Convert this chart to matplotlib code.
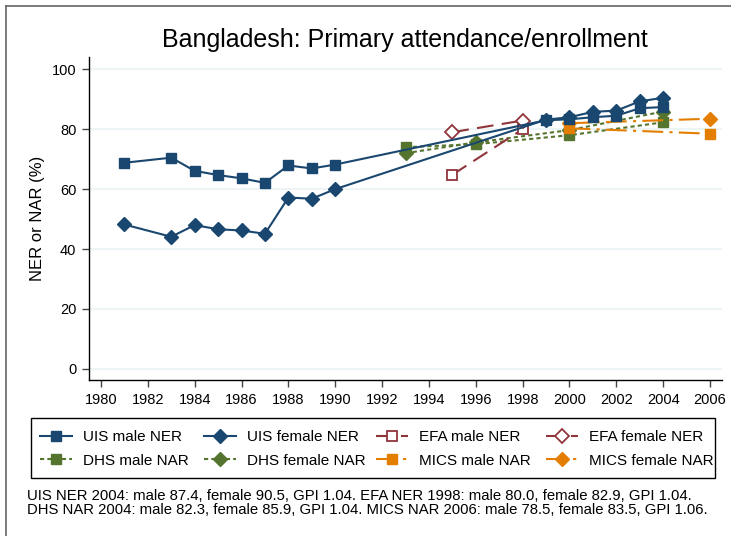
import matplotlib
matplotlib.use('Agg')
import matplotlib.pyplot as plt
from matplotlib.lines import Line2D
from matplotlib.patches import Rectangle

plt.rcParams['font.family'] = ['Liberation Sans', 'DejaVu Sans']

# UIS net enrolment
uis_years = [1981, 1983, 1984, 1985, 1986, 1987, 1988, 1989, 1990,
             1999, 2000, 2001, 2002, 2003, 2004]
uis_male = [68.8, 70.5, 66.1, 64.7, 63.6, 62.1, 67.9, 66.9, 68.2,
            83.0, 83.3, 84.0, 84.5, 87.0, 87.4]
uis_female = [48.2, 44.1, 48.0, 46.6, 46.2, 45.1, 57.2, 56.8, 60.0,
              83.2, 84.0, 85.8, 86.2, 89.3, 90.5]

# EFA net enrolment
efa_years = [1995, 1998]
efa_male = [64.8, 80.0]
efa_female = [79.0, 82.9]

# DHS net attendance
dhs_years = [1993, 1996, 2000, 2004]
dhs_male = [74.0, 75.0, 78.0, 82.3]
dhs_female = [72.0, 75.6, 79.7, 85.9]

# MICS net attendance
mics_years = [2000, 2006]
mics_male = [80.3, 78.5]
mics_female = [82.0, 83.5]

navy = '#1a476f'
maroon = '#90353b'
green = '#55752f'
orange = '#e37e00'

fig = plt.figure(figsize=(7.31, 5.36), dpi=100)
ax = fig.add_axes([89/731, 1 - 380/536, (722 - 89)/731, (380 - 57)/536])

h = []
h += ax.plot(uis_years, uis_male, color=navy, lw=1.5, marker='s', ms=7,
             label='UIS male NER', zorder=5)
h += ax.plot(uis_years, uis_female, color=navy, lw=1.5, marker='D', ms=7,
             label='UIS female NER', zorder=5)
h += ax.plot(efa_years, efa_male, color=maroon, lw=1.5, ls=(0, (8, 4)), marker='s',
             ms=7, mfc='white', mew=1.3, label='EFA male NER', zorder=4)
h += ax.plot(efa_years, efa_female, color=maroon, lw=1.5, ls=(0, (8, 4)), marker='D',
             ms=7, mfc='white', mew=1.3, label='EFA female NER', zorder=4)
h += ax.plot(dhs_years, dhs_male, color=green, lw=1.5, ls=(0, (2, 1.5)), marker='s',
             ms=7, label='DHS male NAR', zorder=3)
h += ax.plot(dhs_years, dhs_female, color=green, lw=1.5, ls=(0, (2, 1.5)), marker='D',
             ms=7, label='DHS female NAR', zorder=3)
h += ax.plot(mics_years, mics_male, color=orange, lw=1.5, ls=(0, (10, 3, 1.5, 3)),
             marker='s', ms=7, label='MICS male NAR', zorder=3)
h += ax.plot(mics_years, mics_female, color=orange, lw=1.5, ls=(0, (10, 3, 1.5, 3)),
             marker='D', ms=7, label='MICS female NAR', zorder=3)

ax.set_xlim(1979.49, 2006.51)
ax.set_ylim(-3.7, 104.1)
ax.set_xticks(range(1980, 2007, 2))
ax.set_yticks(range(0, 101, 20))
ax.yaxis.grid(True, color='#eaf2f3', lw=1.2)
ax.set_axisbelow(True)
for s in ['top', 'right']:
    ax.spines[s].set_visible(False)
for s in ['left', 'bottom']:
    ax.spines[s].set_linewidth(1.0)
ax.tick_params(direction='out', length=5, width=1, color='#444444',
               labelsize=10.5, pad=4)
ax.set_ylabel('NER or NAR (%)', fontsize=12, labelpad=5)

fig.text(0.554, 1 - 40/536, 'Bangladesh: Primary attendance/enrollment',
         ha='center', va='center', fontsize=18)

# legend: four columns, row-major like the original
col_x = [40, 204, 376, 546]
order = [(0, 4), (1, 5), (2, 6), (3, 7)]
for x, (a, b) in zip(col_x, order):
    lg = fig.legend([h[a], h[b]], [h[a].get_label(), h[b].get_label()],
                    loc='center left', bbox_to_anchor=(x/731, 1 - 449/536),
                    frameon=False, fontsize=11, handlelength=2.1,
                    handletextpad=0.7, borderpad=0, borderaxespad=0,
                    labelspacing=0.6)
fig.add_artist(Rectangle((31/731, 1 - 478/536), (715 - 31)/731, 60/536,
                         transform=fig.transFigure, fill=False,
                         edgecolor='black', lw=1.0))

fig.text(27/731, 1 - 496/536,
         'UIS NER 2004: male 87.4, female 90.5, GPI 1.04. '
         'EFA NER 1998: male 80.0, female 82.9, GPI 1.04.',
         ha='left', va='center', fontsize=10.7)
fig.text(27/731, 1 - 510/536,
         'DHS NAR 2004: male 82.3, female 85.9, GPI 1.04. '
         'MICS NAR 2006: male 78.5, female 83.5, GPI 1.06.',
         ha='left', va='center', fontsize=10.7)

# outer frame (top and left edges visible)
fig.add_artist(Line2D([6/731, 1], [1 - 6/536, 1 - 6/536], color='#666666', lw=1.2))
fig.add_artist(Line2D([6/731, 6/731], [0, 1 - 6/536], color='#666666', lw=1.2))

fig.savefig('out.png', dpi=100)
